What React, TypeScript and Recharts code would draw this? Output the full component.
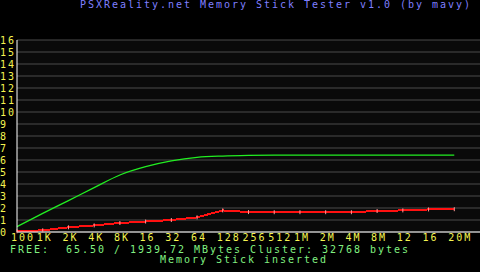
import { LineChart, Line, XAxis, YAxis, CartesianGrid } from "recharts";

// Block sizes tested (x axis labels)
const BLOCK_SIZES = ["100", "1K", "2K", "4K", "8K", "16", "32", "64", "128", "256", "512", "1M", "2M", "4M", "8M", "12", "16", "20M"];
// Speeds in MB/s
const READ_SPEED = [0.45, 1.55, 2.62, 3.7, 4.75, 5.44, 5.92, 6.22, 6.33, 6.38, 6.4, 6.4, 6.4, 6.4, 6.4, 6.4, 6.4, 6.4];
const WRITE_SPEED = [0.06, 0.14, 0.39, 0.55, 0.75, 0.87, 1.0, 1.22, 1.8, 1.66, 1.65, 1.65, 1.65, 1.65, 1.75, 1.8, 1.88, 1.9];
const Y_TICKS = [0, 1, 2, 3, 4, 5, 6, 7, 8, 9, 10, 11, 12, 13, 14, 15, 16];

const TITLE = "PSXReality.net Memory Stick Tester v1.0 (by mavy)";
const FREE_LINE = "FREE:  65.50 / 1939.72 MBytes Cluster: 32768 bytes";
const STATUS_LINE = "Memory Stick inserted";

const WIDTH = 480;
const HEIGHT = 272;
const FONT = {
  fontFamily: "'DejaVu Sans Mono', monospace",
  fontSize: 10,
  letterSpacing: "1.98px",
} as const;
const COLORS = {
  label: "#f4f450",
  title: "#7f7fff",
  info: "#80f080",
  read: "#22ee22",
  write: "#ff1010",
  marker: "#ff9a9a",
  grid: "#4a4a4a",
  plot: "#0a0a0a",
} as const;

const chartData = BLOCK_SIZES.map((size, i) => ({
  idx: i,
  size,
  read: READ_SPEED[i],
  write: WRITE_SPEED[i],
}));

function XTick({ x, y, payload }: any) {
  return (
    <text x={x - 6} y={y + 7} textAnchor="start" fill={COLORS.label} style={FONT}>
      {BLOCK_SIZES[payload.value]}
    </text>
  );
}

function YTick({ y, payload }: any) {
  return (
    <text x={0} y={y + 4} textAnchor="start" fill={COLORS.label} style={FONT}>
      {payload.value}
    </text>
  );
}

function Marker({ cx, cy }: any) {
  if (cx == null || cy == null) return null;
  return <rect x={cx - 0.5} y={cy - 2} width={1} height={4} fill={COLORS.marker} />;
}

export default function App() {
  return (
    <div style={{ position: "absolute", left: 0, top: 0, width: WIDTH, height: HEIGHT, background: "#000" }}>
      <LineChart
        width={WIDTH}
        height={HEIGHT}
        data={chartData}
        margin={{ top: 40, right: 0, bottom: 0, left: 0 }}
      >
        <CartesianGrid horizontal vertical={false} stroke={COLORS.grid} fill={COLORS.plot} />
        <XAxis
          dataKey="idx"
          type="number"
          domain={[0, 18]}
          ticks={BLOCK_SIZES.map((_, i) => i)}
          interval={0}
          height={40}
          axisLine={{ stroke: "#fff", strokeWidth: 1 }}
          tickLine={false}
          tickSize={0}
          tick={<XTick />}
        />
        <YAxis
          type="number"
          domain={[0, 16]}
          ticks={Y_TICKS}
          interval={0}
          width={17}
          axisLine={{ stroke: "#fff", strokeWidth: 1 }}
          tickLine={false}
          tick={<YTick />}
        />
        <Line
          dataKey="read"
          type="monotone"
          stroke={COLORS.read}
          strokeWidth={1.3}
          dot={false}
          isAnimationActive={false}
        />
        <Line
          dataKey="write"
          type="linear"
          stroke={COLORS.write}
          strokeWidth={2}
          dot={<Marker />}
          activeDot={false}
          style={{ shapeRendering: "crispEdges" }}
          isAnimationActive={false}
        />
      </LineChart>
      <svg
        width={WIDTH}
        height={HEIGHT}
        style={{ position: "absolute", left: 0, top: 0, pointerEvents: "none" }}
      >
        <text x={80} y={8} fill={COLORS.title} style={{ ...FONT, whiteSpace: "pre" }}>
          {TITLE}
        </text>
        <text x={10} y={253} fill={COLORS.info} style={{ ...FONT, whiteSpace: "pre" }}>
          {FREE_LINE}
        </text>
        <text x={160} y={263} fill={COLORS.info} style={{ ...FONT, whiteSpace: "pre" }}>
          {STATUS_LINE}
        </text>
      </svg>
    </div>
  );
}
